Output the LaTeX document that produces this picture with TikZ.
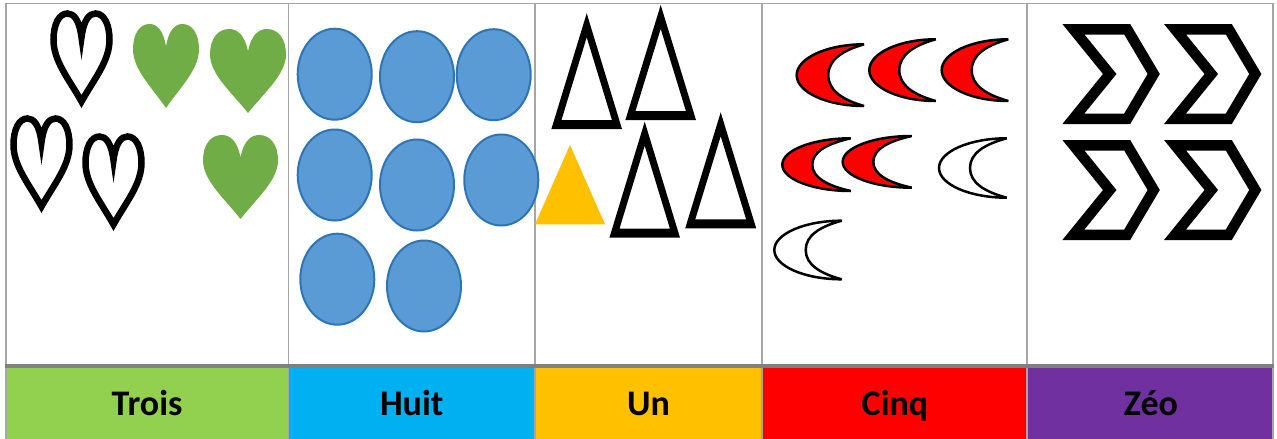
\documentclass[tikz,border=0pt]{standalone}
\usepackage{fontspec}
\setmainfont{Carlito}
\definecolor{gridgray}{HTML}{A6A6A6}
\definecolor{sepgray}{HTML}{808080}
\definecolor{hgreen}{HTML}{92D050}
\definecolor{hblue}{HTML}{00B0F0}
\definecolor{hyellow}{HTML}{FFC000}
\definecolor{hred}{HTML}{FF0000}
\definecolor{hpurple}{HTML}{7030A0}
\definecolor{leafgreen}{HTML}{70AD47}
\definecolor{ellfill}{HTML}{5B9BD5}
\definecolor{elldraw}{HTML}{2E75B6}
\tikzset{
  gridline/.style={draw=gridgray,line width=1.8},
  sepline/.style={draw=sepgray,line width=4},
  label/.style={font=\fontsize{36}{40}\selectfont\bfseries,text=black,anchor=base,inner sep=0pt},
  heartline/.style={draw=black,line width=6.5,miter limit=20},
  heartfill/.style={fill=leafgreen},
  ellstyle/.style={fill=ellfill,draw=elldraw,line width=2},
  moonline/.style={draw=black,line width=2.5,miter limit=3},
  chevstyle/.style={draw=black,line width=10.5,miter limit=20},
}
\newcommand\myheart[5]{%
  \begin{scope}[shift={(#1,#2)},xscale=#3,yscale=#4]
    \path[#5] (0.5,0.27) .. controls (0.46,0.07) and (0.36,0) .. (0.25,0)
      .. controls (0.1,0) and (0,0.12) .. (0,0.3)
      .. controls (0,0.54) and (0.28,0.75) .. (0.5,1)
      .. controls (0.72,0.75) and (1,0.54) .. (1,0.3)
      .. controls (1,0.12) and (0.9,0) .. (0.75,0)
      .. controls (0.64,0) and (0.54,0.07) .. (0.5,0.27) -- cycle;
  \end{scope}}
\newcommand\mymoon[6]{%
  \pgfmathsetmacro\moonM{(#4+#5)/2}%
  \pgfmathsetmacro\moonH{#5-#4}%
  \path[moonline,fill=#6] (#3,#4)
    .. controls ({#3-0.55*(#3-#1)},#4) and (#1,{\moonM-0.275*\moonH}) .. (#1,\moonM)
    .. controls (#1,{\moonM+0.275*\moonH}) and ({#3-0.55*(#3-#1)},#5) .. (#3,#5)
    .. controls ({#3-0.6*(#3-#2)},{#5-0.1*\moonH}) and (#2,{\moonM+0.25*\moonH}) .. (#2,\moonM)
    .. controls (#2,{\moonM-0.25*\moonH}) and ({#3-0.6*(#3-#2)},{#4+0.1*\moonH}) .. (#3,#4) -- cycle;}
\newcommand\mytri[4]{%
  \pgfmathsetmacro\triS{#4/(#3-#2)}%
  \pgfmathsetmacro\triT{7*sqrt(1+\triS*\triS)}%
  \pgfmathsetmacro\triB{#3-9}%
  \pgfmathsetmacro\triW{#4-\triS*9-\triT}%
  \pgfmathsetmacro\triA{#2+\triT/\triS}%
  \fill[black,even odd rule] ({#1-#4},#3) -- (#1,#2) -- ({#1+#4},#3) -- cycle
    ({#1-\triW},\triB) -- (#1,\triA) -- ({#1+\triW},\triB) -- cycle;}
\newcommand\mychev[2]{%
  \draw[chevstyle,shift={(#1,#2)}] (11.7,5.25) -- (65.5,5.25) -- (92,50) -- (65.5,94.75) -- (11.7,94.75) -- (48,50) -- cycle;}
\begin{document}
\begin{tikzpicture}[x=1pt,y=-1pt]
\useasboundingbox (0,0) rectangle (1277,439);
\fill[white] (0,0) rectangle (1277,439);
% header cells
\fill[hgreen] (6,368) rectangle (288.5,439);
\fill[hblue] (288.5,368) rectangle (535,439);
\fill[hyellow] (535,368) rectangle (762,439);
\fill[hred] (762,368) rectangle (1027,439);
\fill[hpurple] (1027,368) rectangle (1272.7,439);
% grid
\draw[gridline] (5,3.5) -- (1273.6,3.5);
\foreach \gx in {6,288.5,535,762,1027,1272.7} \draw[gridline] (\gx,3.5) -- (\gx,439);
\draw[sepline] (5,366) -- (1273.6,366);
% labels
\node[label] (tTrois) at (147,415) {Trois};
\node[label] (tHuit) at (411.7,415) {Huit};
\node[label] (tUn) at (648.5,415) {Un};
\node[label] (tCinq) at (895,415) {Cinq};
\node[label] (tZeo) at (1151,415) {Zéo};
% hearts
\myheart{53.5}{13.5}{56}{88}{heartline}
\myheart{13.5}{118.5}{56}{88}{heartline}
\myheart{85.5}{136.5}{56}{88}{heartline}
\myheart{133}{24}{66}{84}{heartfill}
\myheart{210}{29}{76}{84}{heartfill}
\myheart{203}{135}{75}{84}{heartfill}
% ellipses
\foreach \ex/\ey in {334.7/74.2, 417/76.7, 493.7/74.7, 334.7/175, 417/185, 501.3/180, 337.3/279.2, 424/286}
  \draw[ellstyle] (\ex,\ey) ellipse [x radius=37, y radius=45.5];
% triangles
\mytri{586.7}{13.3}{129}{35.3}
\mytri{660.7}{5}{120}{35.3}
\mytri{644.7}{121.7}{237.7}{35.3}
\mytri{720.7}{112.3}{228.3}{35.5}
\fill[hyellow] (535,224.3) -- (570,145) -- (605,224.3) -- cycle;
% moons
\mymoon{796.7}{828.3}{864}{44.3}{106}{red}
\mymoon{869.3}{899.3}{935.7}{39.3}{101}{red}
\mymoon{941.7}{971.7}{1008.3}{39.3}{101}{red}
\mymoon{782.3}{812.3}{850.7}{138.3}{191}{red}
\mymoon{842.7}{873.3}{911.7}{136}{187.7}{red}
\mymoon{939}{970}{1006.7}{138.3}{197.7}{white}
\mymoon{774.3}{805.7}{841.7}{220.7}{279.3}{white}
% chevrons
\mychev{1061.7}{24}
\mychev{1163.3}{24}
\mychev{1061.7}{140}
\mychev{1163.3}{140}
\end{tikzpicture}
\end{document}
